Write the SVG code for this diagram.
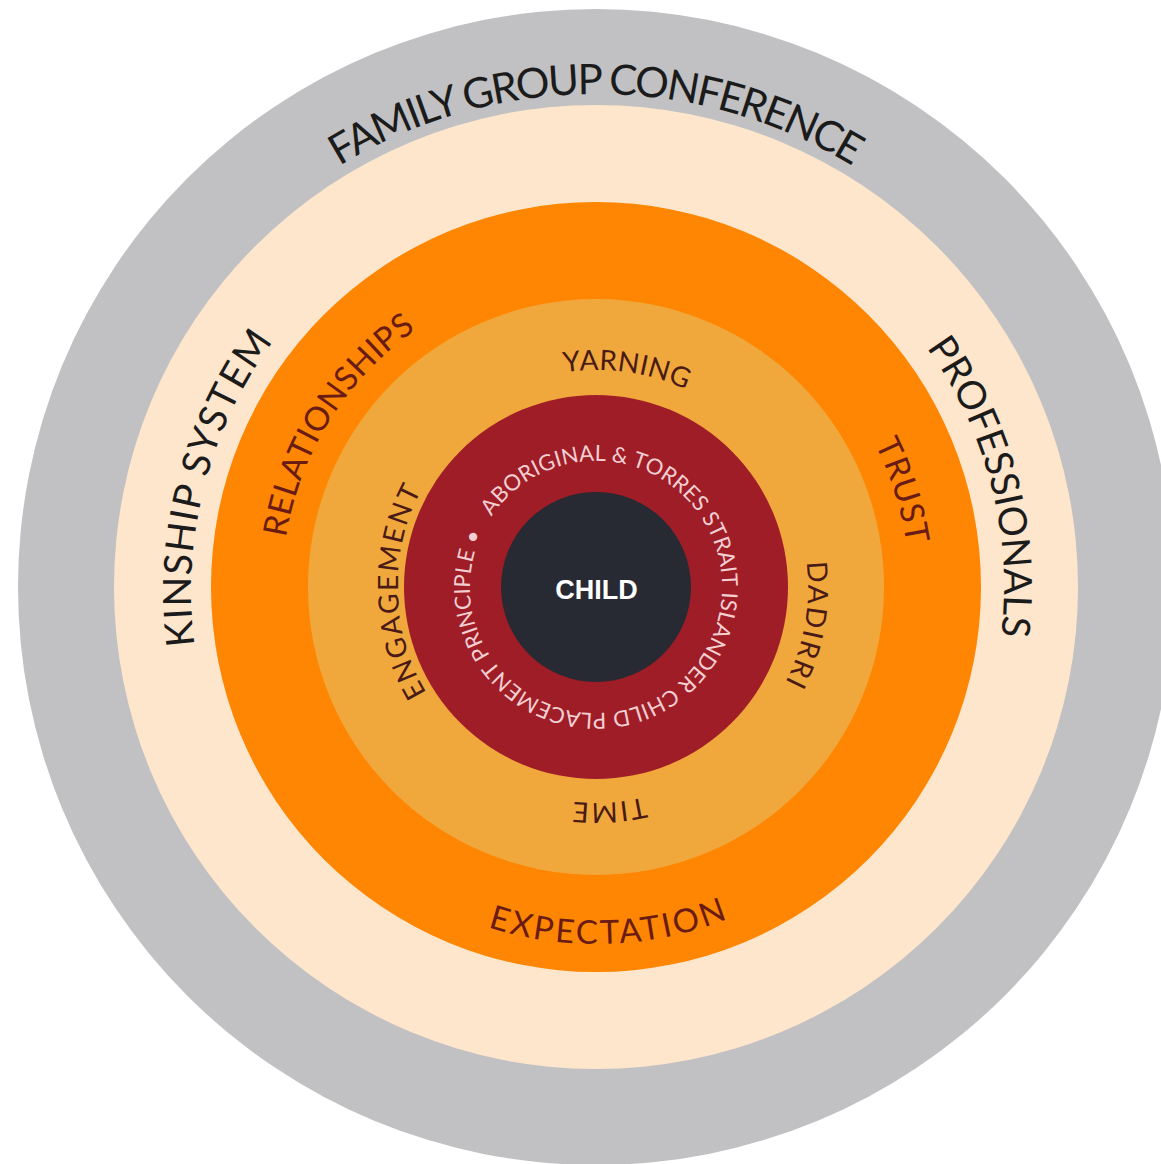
<svg xmlns="http://www.w3.org/2000/svg" xmlns:xlink="http://www.w3.org/1999/xlink" width="1161" height="1164" viewBox="0 0 1161 1164">
  <style>
    .lbl { font-family: Lato, "Open Sans", "Liberation Sans", sans-serif; font-weight: 400; }
    .outer { fill: #1b1b1b; font-size: 39px; }
    .band2 { fill: #6a1c14; font-size: 33px; }
    .band3 { fill: #4a1a16; font-size: 28px; }
    .ring { fill: #f3cfd2; font-size: 22px; }
    .child { font-family: "Liberation Sans", Arial, sans-serif; font-weight: 700; font-size: 27px; fill: #ffffff; }
  </style>
  <defs>
    <path id="pFamily" d="M596,1080 A493,493 0 1 1 596,94 A493,493 0 1 1 596,1080"/>
    <path id="pKinship" d="M987.1,688.2 A404,404 0 1 1 204.9,485.8 A404,404 0 1 1 987.1,688.2"/>
    <path id="pProf" d="M201,689.2 A408,408 0 1 1 991,484.8 A408,408 0 1 1 201,689.2"/>
    <path id="pRel" d="M862.3,753.4 A314,314 0 1 1 329.7,420.6 A314,314 0 1 1 862.3,753.4"/>
    <path id="pTrust" d="M297.5,681.1 A313,313 0 1 1 894.5,492.9 A313,313 0 1 1 297.5,681.1"/>
    <path id="pExp" d="M583.5,230.2 A357,357 0 1 0 608.5,943.8 A357,357 0 1 0 583.5,230.2"/>
    <path id="pYarn" d="M565.8,801.9 A217,217 0 1 1 626.2,372.1 A217,217 0 1 1 565.8,801.9"/>
    <path id="pEng" d="M793.9,581.8 A198,198 0 1 1 398.1,592.2 A198,198 0 1 1 793.9,581.8"/>
    <path id="pDad" d="M387.2,550.2 A212,212 0 1 1 804.8,623.8 A212,212 0 1 1 387.2,550.2"/>
    <path id="pTime" d="M582.8,371.4 A216,216 0 1 1 609.2,802.6 A216,216 0 1 1 582.8,371.4"/>
    <path id="pRing" d="M491.5,516.5 A126,126 0 1 1 700.5,657.5 A126,126 0 1 1 491.5,516.5"/>
  </defs>

  <rect width="1161" height="1164" fill="#ffffff"/>

  <g id="ring-family-group-conference">
    <circle cx="596" cy="587" r="578" fill="#c1c1c3"/>
    <text class="lbl outer" style="font-size:42px"><textPath href="#pFamily" startOffset="50%" text-anchor="middle" textLength="540" lengthAdjust="spacing">FAMILY GROUP CONFERENCE</textPath></text>
  </g>

  <g id="ring-kinship-professionals">
    <circle cx="596" cy="587" r="482" fill="#fee6cc"/>
    <text class="lbl outer"><textPath href="#pKinship" startOffset="50%" text-anchor="middle" textLength="322" lengthAdjust="spacing">KINSHIP SYSTEM</textPath></text>
    <text class="lbl outer"><textPath href="#pProf" startOffset="50%" text-anchor="middle" textLength="305" lengthAdjust="spacing">PROFESSIONALS</textPath></text>
  </g>

  <g id="ring-relationships-trust-expectation">
    <circle cx="596" cy="587" r="385" fill="#fe8602"/>
    <text class="lbl band2"><textPath href="#pRel" startOffset="50%" text-anchor="middle" textLength="252" lengthAdjust="spacing">RELATIONSHIPS</textPath></text>
    <text class="lbl band2"><textPath href="#pTrust" startOffset="50%" text-anchor="middle" textLength="106" lengthAdjust="spacing">TRUST</textPath></text>
    <text class="lbl band2"><textPath href="#pExp" startOffset="50%" text-anchor="middle" textLength="245" lengthAdjust="spacing">EXPECTATION</textPath></text>
  </g>

  <g id="ring-yarning-engagement-dadirri-time">
    <circle cx="596" cy="587" r="288" fill="#f0a83c"/>
    <text class="lbl band3"><textPath href="#pYarn" startOffset="50%" text-anchor="middle" textLength="125" lengthAdjust="spacing">YARNING</textPath></text>
    <text class="lbl band3"><textPath href="#pEng" startOffset="50%" text-anchor="middle" textLength="212" lengthAdjust="spacing">ENGAGEMENT</textPath></text>
    <text class="lbl band3"><textPath href="#pDad" startOffset="50%" text-anchor="middle" textLength="124" lengthAdjust="spacing">DADIRRI</textPath></text>
    <text class="lbl band3"><textPath href="#pTime" startOffset="50%" text-anchor="middle" textLength="72" lengthAdjust="spacing">TIME</textPath></text>
  </g>

  <g id="ring-placement-principle">
    <circle cx="596" cy="587" r="192" fill="#9f1d27"/>
    <text class="lbl ring"><textPath href="#pRing" startOffset="0" textLength="772" lengthAdjust="spacing">ABORIGINAL &amp; TORRES STRAIT ISLANDER CHILD PLACEMENT PRINCIPLE •</textPath></text>
  </g>

  <g id="node-child">
    <circle cx="596" cy="587" r="95" fill="#272933"/>
    <text class="child" x="596.5" y="598.5" text-anchor="middle">CHILD</text>
  </g>

  <g id="connectors"/>
</svg>
